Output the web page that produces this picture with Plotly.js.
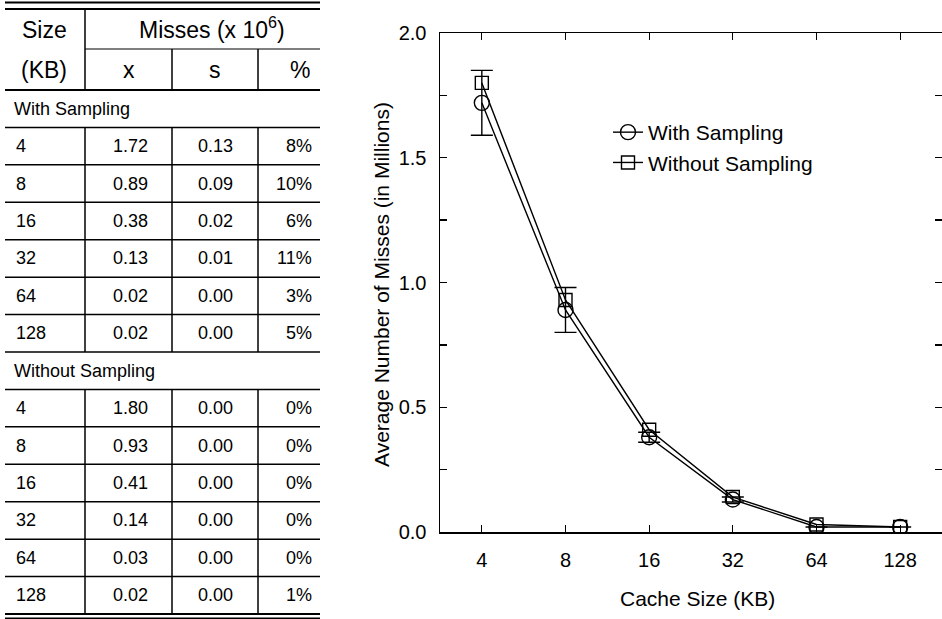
<!DOCTYPE html>
<html>
<head>
<meta charset="utf-8">
<script src="https://cdn.plot.ly/plotly-3.0.1.min.js"></script>
<style>
  html, body { margin: 0; padding: 0; background: #fff; }
  #chart { width: 942px; height: 619px; }
</style>
</head>
<body>
<div id="chart"></div>
<script>
// ---------------- data ----------------
const sizes = ['4', '8', '16', '32', '64', '128'];
const withMean = [1.72, 0.89, 0.38, 0.13, 0.02, 0.02];
const withStd = [0.13, 0.09, 0.02, 0.01, 0.00, 0.00];
const withPct = ['8%', '10%', '6%', '11%', '3%', '5%'];
const withoutMean = [1.80, 0.93, 0.41, 0.14, 0.03, 0.02];
const withoutStd = [0.00, 0.00, 0.00, 0.00, 0.00, 0.00];
const withoutPct = ['0%', '0%', '0%', '0%', '0%', '1%'];
const seriesNames = ['With Sampling', 'Without Sampling'];
const headerSize = ['Size', '(KB)'];
const headerMisses = 'Misses (x 10<sup>6</sup>)';
const headerCols = ['x', 's', '%'];
const xTitle = 'Cache Size (KB)';
const yTitle = 'Average Number of Misses (in Millions)';
const yTickVals = [0, 0.5, 1.0, 1.5, 2.0];
const yTickText = ['0.0', '0.5', '1.0', '1.5', '2.0'];

// ---------------- layout constants ----------------
const FONT = 'Liberation Sans, Arial, Helvetica, sans-serif';
const W = 942, H = 619;
const TBL_W = 320;
const COLB = [5, 85, 172, 258, 320];          // table column boundaries (px)
const TXT_X = [14, 130, 215, 314];            // text anchor per column
const TXT_ANCHOR = ['left', 'center', 'center', 'right'];
const HEAD_TOP = 9, HEAD_MID = 49, HEAD_BOT = 90, ROW_H = 37.43;

// ---------------- table build ----------------
const rows = [];
rows.push({ section: seriesNames[0] });
for (let i = 0; i < sizes.length; i++) rows.push({ cells: [sizes[i], withMean[i].toFixed(2), withStd[i].toFixed(2), withPct[i]] });
rows.push({ section: seriesNames[1] });
for (let i = 0; i < sizes.length; i++) rows.push({ cells: [sizes[i], withoutMean[i].toFixed(2), withoutStd[i].toFixed(2), withoutPct[i]] });

const annotations = [];
const shapes = [];
const tfont = { family: FONT, size: 18, color: '#000' };
const hfont = { family: FONT, size: 23, color: '#000' };
function tAnn(text, x, y, anchor, font) {
  annotations.push({ xref: 'x2', yref: 'y2', x: x, y: y, text: text, showarrow: false,
    xanchor: anchor, yanchor: 'middle', font: font });
}
function tLine(x0, y0, x1, y1, w) {
  shapes.push({ type: 'line', xref: 'x2', yref: 'y2', x0: x0, y0: y0, x1: x1, y1: y1,
    line: { color: '#000', width: w } });
}
// header
tAnn(headerSize[0], 44, (HEAD_TOP + HEAD_MID) / 2 + 1, 'center', hfont);
tAnn(headerSize[1], 44, (HEAD_MID + HEAD_BOT) / 2, 'center', hfont);
tAnn(headerMisses, 212, (HEAD_TOP + HEAD_MID) / 2 - 1, 'center', hfont);
for (let c = 0; c < 3; c++) {
  const cx = c < 2 ? (COLB[c + 1] + COLB[c + 2]) / 2 : 300;
  tAnn(headerCols[c], cx, (HEAD_MID + HEAD_BOT) / 2, 'center', hfont);
}
tLine(COLB[0], 2.5, COLB[4], 2.5, 2);
tLine(COLB[0], HEAD_TOP, COLB[4], HEAD_TOP, 2);
tLine(COLB[1], HEAD_MID, COLB[4], HEAD_MID, 1.2);
tLine(COLB[0], HEAD_BOT, COLB[4], HEAD_BOT, 2);
tLine(COLB[1], HEAD_TOP, COLB[1], HEAD_BOT, 1.5);
tLine(COLB[2], HEAD_MID, COLB[2], HEAD_BOT, 1.5);
tLine(COLB[3], HEAD_MID, COLB[3], HEAD_BOT, 1.5);
// body
rows.forEach((r, i) => {
  const top = HEAD_BOT + i * ROW_H, bot = top + ROW_H, mid = top + ROW_H / 2;
  if (r.section) {
    tAnn(r.section, 12, mid, 'left', tfont);
  } else {
    r.cells.forEach((t, c) => tAnn(t, TXT_X[c], mid, TXT_ANCHOR[c], tfont));
    for (let c = 1; c <= 3; c++) tLine(COLB[c], top, COLB[c], bot, 1.5);
  }
  tLine(COLB[0], bot, COLB[4], bot, i === rows.length - 1 ? 2 : 1.5);
});
tLine(COLB[0], 618.5, COLB[4], 618.5, 2);

// axis titles (paper)
annotations.push({ xref: 'paper', yref: 'paper', x: 697 / W, y: 1 - 598 / H, text: xTitle,
  showarrow: false, xanchor: 'center', yanchor: 'middle', font: { family: FONT, size: 21, color: '#000' } });
annotations.push({ xref: 'paper', yref: 'paper', x: 381 / W, y: 1 - 285 / H, text: yTitle, textangle: -90,
  showarrow: false, xanchor: 'center', yanchor: 'middle', font: { family: FONT, size: 21, color: '#000' } });

// ---------------- traces ----------------
const traces = [
  {
    x: sizes, y: withMean, name: seriesNames[0], type: 'scatter', mode: 'lines+markers',
    xaxis: 'x', yaxis: 'y',
    line: { color: '#000', width: 1.4 },
    marker: { symbol: 'circle-open', size: 15, color: '#000', line: { width: 1.4, color: '#000' } },
    error_y: { type: 'data', array: withStd, visible: true, color: '#000', thickness: 1.4, width: 11 }
  },
  {
    x: sizes, y: withoutMean, name: seriesNames[1], type: 'scatter', mode: 'lines+markers',
    xaxis: 'x', yaxis: 'y',
    line: { color: '#000', width: 1.4 },
    marker: { symbol: 'square-open', size: 13, color: '#000', line: { width: 1.4, color: '#000' } }
  },
  // invisible anchor trace for the table axes
  { x: [0], y: [0], xaxis: 'x2', yaxis: 'y2', type: 'scatter', mode: 'markers',
    marker: { opacity: 0 }, showlegend: false, hoverinfo: 'skip' }
];

const layout = {
  width: W, height: H,
  margin: { l: 0, r: 0, t: 0, b: 0 },
  paper_bgcolor: '#fff', plot_bgcolor: 'rgba(0,0,0,0)',
  font: { family: FONT, color: '#000' },
  showlegend: true,
  legend: {
    x: 608 / W, y: 1 - 112 / H, xanchor: 'left', yanchor: 'top',
    bgcolor: 'rgba(0,0,0,0)', borderwidth: 0,
    font: { family: FONT, size: 21, color: '#000' }, itemwidth: 30
  },
  xaxis: {
    type: 'category', domain: [440 / W, 1], range: [-0.5, 5.5],
    showline: true, linecolor: '#000', linewidth: 1.5, mirror: 'ticks',
    ticks: 'inside', ticklen: 7, tickwidth: 1.3, tickcolor: '#000',
    tickfont: { family: FONT, size: 20, color: '#000' }, ticklabelstandoff: 9,
    showgrid: false, zeroline: false, fixedrange: true
  },
  yaxis: {
    domain: [1 - 532 / H, 1 - 33 / H], range: [0, 2],
    tickvals: yTickVals, ticktext: yTickText,
    showline: true, linecolor: '#000', linewidth: 1.5, mirror: 'ticks',
    ticks: 'inside', ticklen: 7, tickwidth: 1.3, tickcolor: '#000',
    minor: { dtick: 0.25, ticks: 'inside', ticklen: 7, tickwidth: 1.3, tickcolor: '#000', showgrid: false },
    tickfont: { family: FONT, size: 20, color: '#000' }, ticklabelstandoff: 8,
    showgrid: false, zeroline: false, fixedrange: true
  },
  xaxis2: { domain: [0, TBL_W / W], range: [0, TBL_W], visible: false, fixedrange: true, anchor: 'y2' },
  yaxis2: { domain: [0, 1], range: [H, 0], visible: false, fixedrange: true, anchor: 'x2' },
  annotations: annotations,
  shapes: shapes
};

Plotly.newPlot('chart', traces, layout, { displayModeBar: false, staticPlot: true });
</script>
</body>
</html>
